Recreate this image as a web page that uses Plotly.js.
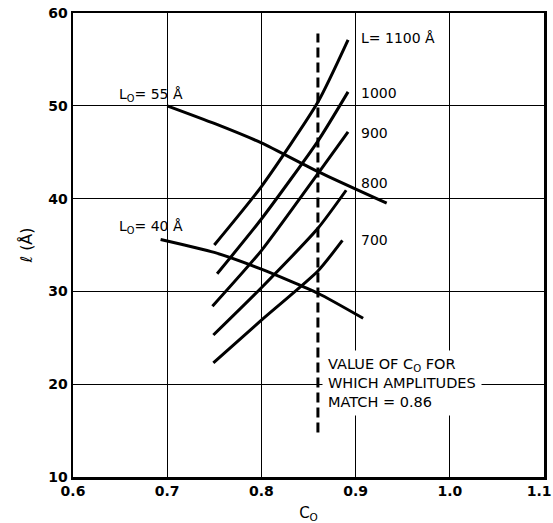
<!DOCTYPE html>
<html>
<head>
<meta charset="utf-8">
<script src="https://cdn.plot.ly/plotly-3.0.1.min.js"></script>
<style>html,body{margin:0;padding:0;background:#fff;}#chart{width:553px;height:523px;}</style>
</head>
<body>
<div id="chart"></div>
<script>
// L0 curves (C0, l in Angstrom)
const lo55X = [0.70, 0.75, 0.80, 0.86, 0.933];
const lo55Y = [50.0, 48.1, 46.0, 42.9, 39.5];
const lo40X = [0.693, 0.75, 0.80, 0.86, 0.908];
const lo40Y = [35.6, 34.2, 32.4, 29.8, 27.1];

// L curves
const L1100X = [0.750, 0.800, 0.860, 0.892];
const L1100Y = [35.0, 41.3, 50.4, 57.1];
const L1000X = [0.753, 0.800, 0.860, 0.892];
const L1000Y = [31.9, 37.8, 46.2, 51.5];
const L900X = [0.748, 0.800, 0.860, 0.892];
const L900Y = [28.4, 34.4, 42.7, 47.2];
const L800X = [0.749, 0.800, 0.860, 0.890];
const L800Y = [25.3, 30.4, 36.8, 40.9];
const L700X = [0.749, 0.800, 0.860, 0.886];
const L700Y = [22.3, 26.9, 32.2, 35.5];

// vertical marker
const matchX = [0.86, 0.86];
const matchY = [14.8, 57.8];

const xTicks = [0.6, 0.7, 0.8, 0.9, 1.0, 1.1];
const xTickText = ['0.6', '0.7', '0.8', '0.9', '1.0', '1.1\u00a0\u00a0'];
const yTicks = [10, 20, 30, 40, 50, 60];

const line = {color: '#000', width: 3, shape: 'spline', smoothing: 0.6};
function tr(x, y) { return {x: x, y: y, mode: 'lines', line: line, hoverinfo: 'skip', showlegend: false}; }

const traces = [
  tr(lo55X, lo55Y), tr(lo40X, lo40Y),
  tr(L1100X, L1100Y), tr(L1000X, L1000Y), tr(L900X, L900Y), tr(L800X, L800Y), tr(L700X, L700Y),
  {x: matchX, y: matchY, mode: 'lines', line: {color: '#000', width: 3, dash: '10px,5px'}, hoverinfo: 'skip', showlegend: false}
];

const lblFont = {family: 'DejaVu Sans, sans-serif', size: 14, color: '#000'};
function ann(x, y, text, xanchor, extra) {
  return Object.assign({x: x, y: y, xref: 'x', yref: 'y', text: text, showarrow: false, xanchor: xanchor || 'left', yanchor: 'middle', font: lblFont}, extra || {});
}

const tickFont = {family: 'DejaVu Sans, sans-serif', size: 14, color: '#000', weight: 'bold'};

const layout = {
  width: 553, height: 523,
  margin: {l: 73, r: 9, t: 13, b: 46},
  paper_bgcolor: '#fff', plot_bgcolor: '#fff',
  showlegend: false,
  xaxis: {
    range: [0.6, 1.1], tickvals: xTicks, ticktext: xTickText,
    showgrid: true, gridcolor: '#000', gridwidth: 1.3, zeroline: false,
    showline: true, mirror: true, linecolor: '#000', linewidth: 2.5,
    ticks: '', tickfont: tickFont, ticklabeloverflow: 'allow',
    title: {text: 'C<sub>O</sub>', font: {family: 'DejaVu Sans, sans-serif', size: 15, color: '#000'}, standoff: 9}
  },
  yaxis: {
    range: [10, 60], tickvals: yTicks,
    showgrid: true, gridcolor: '#000', gridwidth: 1.3, zeroline: false,
    showline: true, mirror: true, linecolor: '#000', linewidth: 2.5,
    ticks: '', tickfont: tickFont,
    title: {text: '<i>ℓ</i> (Å)', font: {family: 'DejaVu Sans, sans-serif', size: 16, color: '#000'}, standoff: 12}
  },
  annotations: [
    ann(0.647, 51.2, 'L<sub>O</sub>= 55 Å'),
    ann(0.647, 36.9, 'L<sub>O</sub>= 40 Å'),
    ann(0.904, 57.3, 'L= 1100 Å'),
    ann(0.904, 51.4, '1000'),
    ann(0.904, 47.1, '900'),
    ann(0.904, 41.7, '800'),
    ann(0.904, 35.5, '700'),
    ann(0.864, 20.1, 'VALUE OF C<sub>O</sub> FOR<br>WHICH AMPLITUDES<br>MATCH = 0.86', 'left',
        {align: 'left', bgcolor: '#fff', borderpad: 5, font: {family: 'DejaVu Sans, sans-serif', size: 14.5, color: '#000'}})
  ]
};

Plotly.newPlot('chart', traces, layout, {displayModeBar: false, staticPlot: true});
</script>
</body>
</html>
